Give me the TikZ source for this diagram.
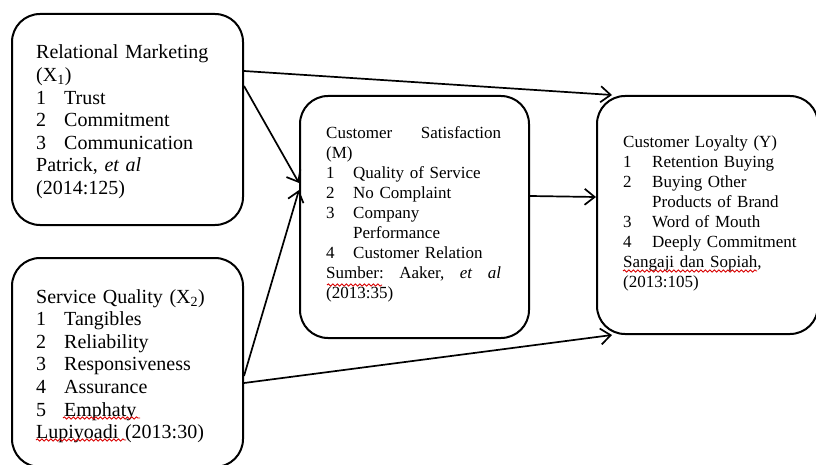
\documentclass[tikz,border=0pt]{standalone}
\usepackage{fontspec}
\setmainfont{Liberation Serif}
\usetikzlibrary{arrows.meta,decorations.pathmorphing}

\newcommand{\itm}[3][28pt]{\makebox[#1][l]{#2}#3}
\newcommand{\cont}[1][28pt]{\hspace*{#1}}

\begin{document}
\begin{tikzpicture}[x=1pt,y=-1pt,
    box/.style={draw,line width=2pt,rounded corners=28pt,inner sep=0pt},
    bigtext/.style={font=\fontsize{20pt}{22.6pt}\selectfont,anchor=base west,inner sep=0pt,align=left,text width=#1},
    smalltext/.style={font=\fontsize{17pt}{20pt}\selectfont,anchor=base west,inner sep=0pt,align=left,text width=#1},
    link/.style={-{Straight Barb[length=10pt,width=16pt,line width=1.7pt]},line width=1.7pt},
    squiggle/.style={red!85!black,line width=0.9pt,decorate,decoration={snake,amplitude=1.1pt,segment length=4.5pt}}]
	\useasboundingbox (0,0) rectangle (816,465);

	% boxes
	\node[box,minimum width=231pt,minimum height=211pt] (rm) at (127.5,119.5) {};
	\node[box,minimum width=231pt,minimum height=209pt] (sq) at (127.5,362.5) {};
	\node[box,minimum width=229pt,minimum height=242pt] (cs) at (414.5,217) {};
	\node[box,minimum width=221pt,minimum height=238pt] (cl) at (707.5,215) {};

	% texts
	\node[bigtext=200pt] (rmtext) at (36,59) {Relational Marketing\\
		(X\textsubscript{1})\\
		\itm{1}{Trust}\\
		\itm{2}{Commitment}\\
		\itm{3}{Communication}\\
		Patrick, \textit{et al}\\
		(2014:125)};
	\node[bigtext=200pt] (sqtext) at (36,303) {Service Quality (X\textsubscript{2})\\
		\itm{1}{Tangibles}\\
		\itm{2}{Reliability}\\
		\itm{3}{Responsiveness}\\
		\itm{4}{Assurance}\\
		\itm{5}{Emphaty}\\
		Lupiyoadi (2013:30)};
	\node[smalltext=190pt] (cstext) at (326,139) {\makebox[175pt][s]{Customer\hfill Satisfaction}\\
		(M)\\
		\itm[27pt]{1}{Quality of Service}\\
		\itm[27pt]{2}{No Complaint}\\
		\itm[27pt]{3}{Company}\\
		\cont[27pt]Performance\\
		\itm[27pt]{4}{Customer Relation}\\
		\makebox[175pt][s]{Sumber:\hfill Aaker,\hfill\textit{et}\hfill\textit{al}}\\
		(2013:35)};
	\node[smalltext=185pt] (cltext) at (623,148) {Customer Loyalty (Y)\\
		\itm[29pt]{1}{Retention Buying}\\
		\itm[29pt]{2}{Buying Other}\\
		\cont[29pt]Products of Brand\\
		\itm[29pt]{3}{Word of Mouth}\\
		\itm[29pt]{4}{Deeply Commitment}\\
		Sangaji dan Sopiah,\\
		(2013:105)};

	% spelling marks
	\draw[squiggle] (63,418) -- (140,418);
	\draw[squiggle] (36,440) -- (126,440);
	\draw[squiggle] (327,285) -- (382,285);
	\draw[squiggle] (623,271) -- (757,271);

	% arrows
	\draw[link] ([yshift=-58pt]rm.north east) -- ([xshift=16pt]cl.north west);
	\draw[link] ([yshift=-73pt]rm.north east) -- ([yshift=34pt]cs.west);
	\draw[link] ([yshift=-119pt]sq.north east) -- ([yshift=27pt]cs.west);
	\draw[link] ([yshift=-126pt]sq.north east) -- ([xshift=16pt]cl.south west);
	\draw[link] ([yshift=21pt]cs.east) -- ([yshift=18pt]cl.west);
\end{tikzpicture}
\end{document}
